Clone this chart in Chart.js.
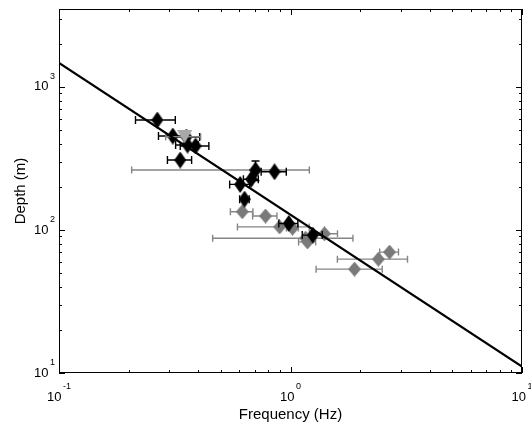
<!DOCTYPE html>
<html><head><meta charset="utf-8">
<script src="https://cdn.jsdelivr.net/npm/chart.js@4"></script>
<style>html,body{margin:0;padding:0;background:#fff}#wrap{width:531px;height:432px}</style>
</head><body><div id="wrap"><canvas id="c" width="531" height="432"></canvas></div>
<script>
// ---- data ----
const blackFreq     = [0.266, 0.310, 0.355, 0.359, 0.389, 0.334, 0.706, 0.853, 0.676, 0.606, 0.633, 0.983, 1.248];
const blackDepth    = [586,   453,   446,   392,   386,   308,   262,   255,   226,   208,   164,   111,   92];
const blackFreqErr  = [0.052, 0.041, 0.050, 0.040, 0.055, 0.040, 0,     0.106, 0.050, 0.060, 0.030, 0.093, 0.124];
const blackDepthErr = [0,     0,     0,     0,     0,     0,     41,    0,     0,     0,     0,     0,     0];

const grayFreq    = [0.706, 0.619, 0.780, 0.897, 1.020, 1.161, 1.184, 1.402, 2.677, 2.398, 1.890];
const grayDepth   = [262,   134,   125,   105,   103,   87.5,  82.5,  94,    70,    62.5,  53.2];
const grayFreqErr = [0.50,  0.069, 0.094, 0.307, 0.060, 0.70,  0.10,  0.194, 0.25,  0.804, 0.60];

const triFreq    = [0.349];
const triDepth   = [448];
const triFreqErr = [0.06];

const fitFreq  = [0.1, 10];
const fitDepth = [1471, 11.07];

const xTickExps = [-1, 0, 1];
const yTickExps = [1, 2, 3];
const xLabel = 'Frequency (Hz)';
const yLabel = 'Depth (m)';

// ---- marker images ----
function diamond(w, h, color) {
  const c = document.createElement('canvas'); c.width = w; c.height = h;
  const g = c.getContext('2d'); g.fillStyle = color; g.beginPath();
  g.moveTo(w / 2, 0); g.lineTo(w, h / 2); g.lineTo(w / 2, h); g.lineTo(0, h / 2); g.closePath(); g.fill();
  return c;
}
function triDown(w, h, color) {
  const c = document.createElement('canvas'); c.width = w; c.height = h;
  const g = c.getContext('2d'); g.fillStyle = color; g.beginPath();
  g.moveTo(0, 0); g.lineTo(w, 0); g.lineTo(w / 2, h); g.closePath(); g.fill();
  return c;
}
const blackMark = diamond(12, 17, '#000000');
const grayMark = diamond(13, 15, '#7a7a7a');
const triMark = triDown(15, 13, '#a8a8a8');

const zip = (xs, ys) => xs.map((x, i) => ({ x: x, y: ys[i] }));

// ---- plugins ----
const errorBars = {
  id: 'errorBars',
  beforeDatasetDraw(chart, args) {
    const ds = chart.data.datasets[args.index];
    if (!ds.errX) return;
    const xs = chart.scales.x, ys = chart.scales.y, ctx = chart.ctx, a = chart.chartArea;
    ctx.save();
    ctx.beginPath(); ctx.rect(a.left, a.top, a.right - a.left, a.bottom - a.top); ctx.clip();
    ctx.strokeStyle = ds.errColor; ctx.lineWidth = ds.errWidth;
    const cap = ds.errCap;
    ds.data.forEach((p, i) => {
      const px = xs.getPixelForValue(p.x), py = ys.getPixelForValue(p.y);
      const ex = ds.errX[i] || 0, ey = ds.errY ? (ds.errY[i] || 0) : 0;
      ctx.beginPath();
      if (ex) {
        const x1 = xs.getPixelForValue(p.x - ex), x2 = xs.getPixelForValue(p.x + ex);
        ctx.moveTo(x1, py); ctx.lineTo(x2, py);
        ctx.moveTo(x1, py - cap); ctx.lineTo(x1, py + cap);
        ctx.moveTo(x2, py - cap); ctx.lineTo(x2, py + cap);
      }
      if (ey) {
        const y1 = ys.getPixelForValue(p.y - ey), y2 = ys.getPixelForValue(p.y + ey);
        ctx.moveTo(px, y1); ctx.lineTo(px, y2);
        ctx.moveTo(px - cap, y1); ctx.lineTo(px + cap, y1);
        ctx.moveTo(px - cap, y2); ctx.lineTo(px + cap, y2);
      }
      ctx.stroke();
    });
    ctx.restore();
  }
};

function drawPow(ctx, exp, x, y, align) {
  ctx.textBaseline = 'middle'; ctx.textAlign = 'left';
  ctx.font = '13px "Liberation Sans", Arial, sans-serif';
  const bw = ctx.measureText('10').width;
  ctx.font = '9px "Liberation Sans", Arial, sans-serif';
  const s = String(exp);
  const sw = ctx.measureText(s).width;
  const total = bw + 1.5 + sw;
  const start = align === 'center' ? x - total / 2 : x - total;
  ctx.font = '13px "Liberation Sans", Arial, sans-serif';
  ctx.fillText('10', start, y);
  ctx.font = '9px "Liberation Sans", Arial, sans-serif';
  ctx.fillText(s, start + bw + 1.5, y - 10);
}

const frame = {
  id: 'frame',
  afterDraw(chart) {
    const ctx = chart.ctx, a = chart.chartArea, xs = chart.scales.x, ys = chart.scales.y;
    ctx.save();
    ctx.strokeStyle = '#000'; ctx.lineWidth = 1;
    ctx.strokeRect(a.left + 0.5, a.top + 0.5, a.right - a.left - 1, a.bottom - a.top - 1);
    ctx.beginPath();
    for (let e = xTickExps[0]; e < xTickExps[xTickExps.length - 1] + 1; e++) {
      for (let m = 1; m <= 9; m++) {
        const v = m * Math.pow(10, e);
        if (v > xs.max * 1.0001) break;
        const px = Math.round(xs.getPixelForValue(v)) + 0.5;
        const len = m === 1 ? 6 : 3;
        ctx.moveTo(px, a.bottom); ctx.lineTo(px, a.bottom - len);
        ctx.moveTo(px, a.top); ctx.lineTo(px, a.top + len);
      }
    }
    for (let e = yTickExps[0]; e <= yTickExps[yTickExps.length - 1]; e++) {
      for (let m = 1; m <= 9; m++) {
        const v = m * Math.pow(10, e);
        if (v > ys.max) break;
        const py = Math.round(ys.getPixelForValue(v)) + 0.5;
        const len = m === 1 ? 6 : 3;
        ctx.moveTo(a.left, py); ctx.lineTo(a.left + len, py);
        ctx.moveTo(a.right, py); ctx.lineTo(a.right - len, py);
      }
    }
    ctx.stroke();
    ctx.fillStyle = '#000';
    xTickExps.forEach(e => drawPow(ctx, e, xs.getPixelForValue(Math.pow(10, e)), 397, 'center'));
    yTickExps.forEach(e => drawPow(ctx, e, a.left - 4, ys.getPixelForValue(Math.pow(10, e)), 'right'));
    ctx.font = '15px "Liberation Sans", Arial, sans-serif';
    ctx.textAlign = 'center'; ctx.textBaseline = 'middle';
    ctx.fillText(xLabel, (a.left + a.right) / 2, 415);
    ctx.translate(21, (a.top + a.bottom) / 2);
    ctx.rotate(-Math.PI / 2);
    ctx.fillText(yLabel, 0, 0);
    ctx.restore();
  }
};

new Chart(document.getElementById('c'), {
  type: 'scatter',
  data: {
    datasets: [
      { type: 'line', data: zip(fitFreq, fitDepth), borderColor: '#000', borderWidth: 2.2, pointRadius: 0, fill: false },
      { data: zip(triFreq, triDepth), pointStyle: triMark, pointRadius: 8,
        errX: triFreqErr, errColor: '#808080', errWidth: 1.4, errCap: 3.5 },
      { data: zip(blackFreq, blackDepth), pointStyle: blackMark, pointRadius: 8,
        errX: blackFreqErr, errY: blackDepthErr, errColor: '#000', errWidth: 1.4, errCap: 4 },
      { data: zip(grayFreq, grayDepth), pointStyle: grayMark, pointRadius: 8,
        errX: grayFreqErr, errColor: '#858585', errWidth: 1.4, errCap: 3.5 }
    ]
  },
  options: {
    responsive: false, animation: false, events: [],
    layout: { padding: { left: 59, right: 8, top: 9, bottom: 59 } },
    plugins: { legend: { display: false }, tooltip: { enabled: false } },
    scales: {
      x: { type: 'logarithmic', min: 0.1, max: 10, display: false },
      y: { type: 'logarithmic', min: 10, max: 3500, display: false }
    }
  },
  plugins: [errorBars, frame]
});
</script>
</body></html>
